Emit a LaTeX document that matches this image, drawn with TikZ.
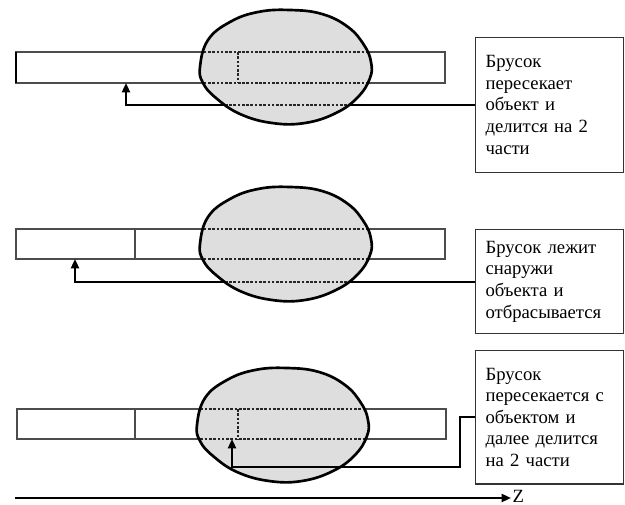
\documentclass[tikz,border=0pt]{standalone}
\usepackage{fontspec}
\setmainfont{Liberation Serif}
\usetikzlibrary{arrows.meta}

\tikzset{
  bar/.style={draw=black!70, line width=0.9, fill=white},
  blobline/.style={draw=black, line width=2},
  blobfill/.style={fill=black!13},
  hidden/.style={draw=black!85, line width=0.9, dash pattern=on 2pt off 1.2pt},
  link/.style={line width=1.6, -{Triangle[length=7pt,width=6pt]}},
  note/.style={draw=black!80, line width=0.9, fill=white, align=left, text width=96pt,
    inner sep=7.5pt, anchor=north west, font=\fontsize{14}{16.2}\selectfont},
}

\begin{document}
\begin{tikzpicture}[x=0.75pt,y=0.75pt,yscale=-1,xscale=1]
\useasboundingbox (0,0) rectangle (625,505);

%%%%%%%% first bar: cut by the object
%Shape: Rectangle
\draw[bar] (16,52) rectangle (445,83);
\draw[line width=1.6] (16,52) -- (16,83);
\coordinate (hit1) at (126,83);
% Text Node
\node[note, minimum height=101pt] (note1) at (475,37) {Брусок\\пересекает\\объект и\\делится на 2\\части};
%Straight Lines
\draw[link] (note1.west) -| (hit1);
%Shape: Blob
\begin{scope}
\clip plot[smooth cycle, tension=0.7] coordinates {(200,67) (208,40) (230,22) (258,12) (290,10) (322,14) (348,27) (364,45) (371,62) (370,78) (358,97) (336,113) (305,123) (272,123) (240,114) (216,98) (203,83)};
\fill[blobfill] (190,0) rectangle (380,130);
\draw[hidden] (16,52) -- (445,52) (16,83) -- (445,83) (238,52) -- (238,83);
\draw[hidden, line width=1.6] (note1.west) -| (hit1);
\end{scope}
\draw[blobline] plot[smooth cycle, tension=0.7] coordinates {(200,67) (208,40) (230,22) (258,12) (290,10) (322,14) (348,27) (364,45) (371,62) (370,78) (358,97) (336,113) (305,123) (272,123) (240,114) (216,98) (203,83)};

%%%%%%%% second bar: outside, thrown away
%Shape: Rectangle
\draw[bar] (16,229) rectangle (445,259);
\draw[bar] (135,229) -- (135,259);
\coordinate (hit2) at (75,259);
% Text Node
\node[note, minimum height=78pt] (note2) at (475,229) {Брусок лежит\\снаружи\\объекта и\\отбрасывается};
%Straight Lines
\draw[link] (note2.west) -| (hit2);
%Shape: Blob
\begin{scope}
\clip[shift={(0,177)}] plot[smooth cycle, tension=0.7] coordinates {(200,67) (208,40) (230,22) (258,12) (290,10) (322,14) (348,27) (364,45) (371,62) (370,78) (358,97) (336,113) (305,123) (272,123) (240,114) (216,98) (203,83)};
\fill[blobfill] (190,170) rectangle (380,310);
\draw[hidden] (16,229) -- (445,229) (16,259) -- (445,259);
\draw[hidden, line width=1.6] (note2.west) -| (hit2);
\end{scope}
\draw[blobline, shift={(0,177)}] plot[smooth cycle, tension=0.7] coordinates {(200,67) (208,40) (230,22) (258,12) (290,10) (322,14) (348,27) (364,45) (371,62) (370,78) (358,97) (336,113) (305,123) (272,123) (240,114) (216,98) (203,83)};

%%%%%%%% third bar: cut again
%Shape: Rectangle
\draw[bar] (17,409) rectangle (446,439);
\draw[bar] (135,409) -- (135,439);
\coordinate (hit3) at (232,439);
\coordinate (bend3) at (460,467);
% Text Node
\node[note, minimum height=100pt] (note3) at (475,350) {Брусок\\пересекается с\\объектом и\\далее делится\\на 2 части};
%Shape: Blob
\begin{scope}
\clip[shift={(-3,358)}] plot[smooth cycle, tension=0.7] coordinates {(200,67) (208,40) (230,22) (258,12) (290,10) (322,14) (348,27) (364,45) (371,62) (370,78) (358,97) (336,113) (305,123) (272,123) (240,114) (216,98) (203,83)};
\fill[blobfill] (190,350) rectangle (380,500);
\draw[hidden] (17,409) -- (446,409) (17,439) -- (446,439) (238,409) -- (238,439);
\end{scope}
\draw[blobline, shift={(-3,358)}] plot[smooth cycle, tension=0.7] coordinates {(200,67) (208,40) (230,22) (258,12) (290,10) (322,14) (348,27) (364,45) (371,62) (370,78) (358,97) (336,113) (305,123) (272,123) (240,114) (216,98) (203,83)};
%Straight Lines
\draw[link] (note3.west) -| (bend3) -| (hit3);

%%%%%%%% axis
\coordinate (zstart) at (15,498);
% Text Node
\node[inner sep=1pt, anchor=west, font=\fontsize{14}{16}\selectfont] (zlab) at (511,496) {Z};
\draw[link] (zstart) -- (zlab.west |- zstart);

\end{tikzpicture}
\end{document}
